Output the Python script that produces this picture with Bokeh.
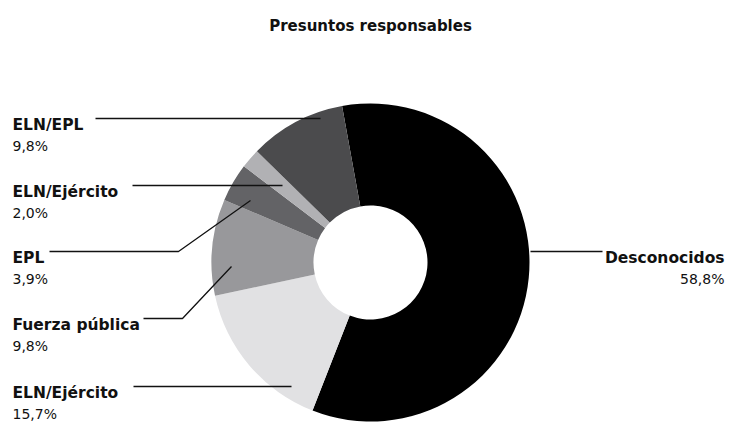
import math
from bokeh.plotting import figure
from bokeh.models import Range1d, ColumnDataSource
from bokeh.core.properties import value
from bokeh.embed import file_html
from bokeh.resources import INLINE

# ---- data ----
title = "Presuntos responsables"
categories = ["Desconocidos", "ELN/Ejército", "Fuerza pública", "EPL", "ELN/Ejército", "ELN/EPL"]
shares = [58.8, 15.7, 9.8, 3.9, 2.0, 9.8]
colors = ["#000000", "#e1e1e3", "#98989b", "#636366", "#b1b1b4", "#4b4b4d"]
share_labels = [f"{v:.1f}".replace(".", ",") + "%" for v in shares]

# ---- layout (pixel coords; y measured from top) ----
W, H = 729, 424
FONT = "DejaVu Sans"
cx, cy = 370, 262
r_out, r_in = 159, 57
start_deg = -10.3  # clockwise from 12 o'clock

def Y(ys):
    return H - ys

p = figure(width=W, height=H, output_backend="svg", toolbar_location=None,
           x_range=Range1d(0, W), y_range=Range1d(0, H),
           min_border=0, x_axis_location=None, y_axis_location=None,
           outline_line_color=None)
p.grid.visible = False
p.background_fill_color = "white"
p.border_fill_color = "white"

total = sum(shares)
starts, ends = [], []
cum = 0.0
for v in shares:
    a0 = start_deg + cum / total * 360
    a1 = start_deg + (cum + v) / total * 360
    starts.append(math.radians(90 - a0))
    ends.append(math.radians(90 - a1))
    cum += v

src = ColumnDataSource(dict(start=starts, end=ends, color=colors, cat=categories))
p.annular_wedge(x=cx, y=Y(cy), inner_radius=r_in, outer_radius=r_out,
                start_angle="start", end_angle="end", direction="clock",
                fill_color="color", line_color=None, source=src)

# labels: (slice index, x, label baseline, align, leader points)
label_layout = [
    (5, 12, 124, "left", [(95, 118), (320, 118)]),
    (4, 12, 191, "left", [(132, 185), (282, 185)]),
    (3, 12, 257, "left", [(49, 251), (178, 251), (250, 200)]),
    (2, 12, 324, "left", [(143, 318), (182, 318), (231, 266)]),
    (1, 12, 392, "left", [(133, 386), (291, 386)]),
    (0, 724, 257, "right", [(530, 251), (602, 251)]),
]

xs, ys = [], []
for idx, lx, base, align, pts in label_layout:
    p.text(x=[lx], y=[Y(base)], text=[categories[idx]], text_font=value(FONT),
           text_font_style="bold", text_font_size="15.5px", text_color="#111111",
           text_align=align, text_baseline="alphabetic")
    p.text(x=[lx], y=[Y(base + 21)], text=[share_labels[idx]], text_font=value(FONT),
           text_font_size="14px", text_color="#111111",
           text_align=align, text_baseline="alphabetic")
    xs.append([pt[0] for pt in pts])
    ys.append([Y(pt[1]) for pt in pts])

p.multi_line(xs=xs, ys=ys, line_color="#111111", line_width=1.3)

p.text(x=[370], y=[Y(25)], text=[title], text_font=value(FONT),
       text_font_style="bold", text_font_size="15px", text_color="#111111",
       text_align="center", text_baseline="alphabetic")

open("out.html", "w").write(file_html(p, INLINE))
